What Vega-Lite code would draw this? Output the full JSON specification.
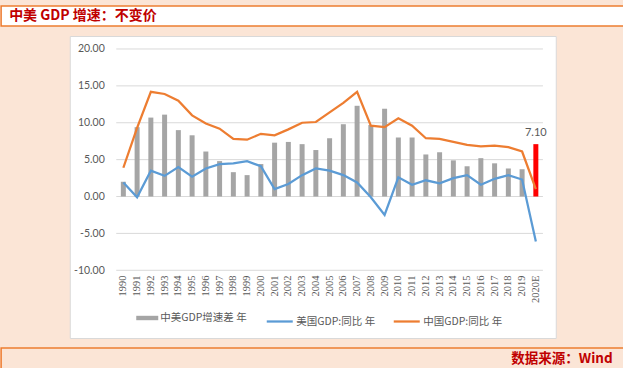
{
  "$schema": "https://vega.github.io/schema/vega-lite/v6.json",
  "background": "#fbe5d6",
  "padding": {"left": 0, "top": 5, "right": 0, "bottom": 0},
  "spacing": 8,
  "center": true,
  "config": {"view": {"stroke": null}, "font": "Lato"},
  "resolve": {"legend": {"fill": "independent", "stroke": "independent"}},
  "vconcat": [
    {
      "width": 623,
      "height": 20,
      "view": {"fill": "#ffffff", "stroke": "#ed7d31", "strokeWidth": 1.5},
      "data": {"values": [{"t": "中美 GDP 增速：不变价"}]},
      "mark": {"type": "text", "align": "left", "baseline": "middle", "dx": -303.5, "color": "#c00000", "font": "Noto Sans CJK SC", "fontWeight": "bold", "fontSize": 14},
      "encoding": {"text": {"field": "t"}}
    },
    {
      "width": 486,
      "height": 302,
      "view": {"fill": "#ffffff", "stroke": "#d9d9d9"},
      "data": {"values": [
        {"year": "1990", "diff": 2.0, "us": 1.9, "cn": 3.9},
        {"year": "1991", "diff": 9.4, "us": -0.1, "cn": 9.3},
        {"year": "1992", "diff": 10.7, "us": 3.5, "cn": 14.2},
        {"year": "1993", "diff": 11.1, "us": 2.8, "cn": 13.9},
        {"year": "1994", "diff": 9.0, "us": 4.0, "cn": 13.0},
        {"year": "1995", "diff": 8.3, "us": 2.7, "cn": 11.0},
        {"year": "1996", "diff": 6.1, "us": 3.8, "cn": 9.9},
        {"year": "1997", "diff": 4.8, "us": 4.4, "cn": 9.2},
        {"year": "1998", "diff": 3.3, "us": 4.5, "cn": 7.8},
        {"year": "1999", "diff": 2.9, "us": 4.8, "cn": 7.7},
        {"year": "2000", "diff": 4.4, "us": 4.1, "cn": 8.5},
        {"year": "2001", "diff": 7.3, "us": 1.0, "cn": 8.3},
        {"year": "2002", "diff": 7.4, "us": 1.7, "cn": 9.1},
        {"year": "2003", "diff": 7.1, "us": 2.9, "cn": 10.0},
        {"year": "2004", "diff": 6.3, "us": 3.8, "cn": 10.1},
        {"year": "2005", "diff": 7.9, "us": 3.5, "cn": 11.4},
        {"year": "2006", "diff": 9.8, "us": 2.9, "cn": 12.7},
        {"year": "2007", "diff": 12.3, "us": 1.9, "cn": 14.2},
        {"year": "2008", "diff": 9.7, "us": -0.1, "cn": 9.6},
        {"year": "2009", "diff": 11.9, "us": -2.5, "cn": 9.4},
        {"year": "2010", "diff": 8.0, "us": 2.6, "cn": 10.6},
        {"year": "2011", "diff": 8.0, "us": 1.6, "cn": 9.6},
        {"year": "2012", "diff": 5.7, "us": 2.2, "cn": 7.9},
        {"year": "2013", "diff": 6.0, "us": 1.8, "cn": 7.8},
        {"year": "2014", "diff": 4.9, "us": 2.5, "cn": 7.4},
        {"year": "2015", "diff": 4.1, "us": 2.9, "cn": 7.0},
        {"year": "2016", "diff": 5.2, "us": 1.6, "cn": 6.8},
        {"year": "2017", "diff": 4.5, "us": 2.4, "cn": 6.9},
        {"year": "2018", "diff": 3.8, "us": 2.9, "cn": 6.7},
        {"year": "2019", "diff": 3.7, "us": 2.3, "cn": 6.1},
        {"year": "2020E", "diff": 7.1, "us": -6.1, "cn": 1.0}
      ]},
      "encoding": {
        "x": {
          "field": "year", "type": "ordinal",
          "scale": {"range": [46.5, 473.2], "paddingInner": 0.637, "paddingOuter": 0.335, "align": 0.5},
          "axis": {"title": null, "orient": "bottom", "offset": -68, "labelAngle": -90, "labelFont": "Liberation Serif", "labelFontSize": 10.5, "labelColor": "#595959", "domain": false, "ticks": false, "labelPadding": 5, "grid": false}
        }
      },
      "layer": [
        {
          "data": {"values": [{"g": -10}, {"g": -5}, {"g": 0}, {"g": 5}, {"g": 10}, {"g": 15}, {"g": 20}]},
          "mark": {"type": "rule", "color": "#d9d9d9", "strokeWidth": 1},
          "encoding": {
            "x": {"datum": "1990", "type": "ordinal", "bandPosition": -0.92},
            "x2": {"datum": "2020E", "bandPosition": 1.92},
            "y": {
              "field": "g", "type": "quantitative",
              "scale": {"domain": [-19.18, 21.76], "nice": false, "zero": false},
              "axis": {"values": [-10, -5, 0, 5, 10, 15, 20], "labelExpr": "datum.value < 0 ? '-' + format(-datum.value, '.2f') : format(datum.value, '.2f')", "offset": -36.5, "labelPadding": 2, "domain": false, "ticks": false, "grid": false, "labelColor": "#595959", "labelFontSize": 10.5, "labelFont": "Lato", "title": null}
            }
          }
        },
        {
          "mark": {"type": "bar"},
          "encoding": {
            "y": {"field": "diff", "type": "quantitative"},
            "fill": {
              "datum": "中美GDP增速差 年",
              "scale": {"range": ["#a5a5a5"]},
              "condition": {"test": "datum.year === '2020E'", "value": "#ff0000"},
              "legend": {"orient": "none", "legendX": 66.5, "legendY": 271, "title": null, "symbolType": "M-1,-0.2H1V0.2H-1Z", "symbolSize": 484, "symbolStrokeWidth": 0, "labelFont": "Noto Sans CJK SC", "labelFontSize": 10.5, "labelColor": "#595959", "labelOffset": 2}
            }
          }
        },
        {
          "transform": [{"fold": ["us", "cn"], "as": ["s", "v"]}],
          "mark": {"type": "line", "strokeWidth": 2.25},
          "encoding": {
            "y": {"field": "v", "type": "quantitative"},
            "stroke": {
              "field": "s", "type": "nominal",
              "scale": {"domain": ["us", "cn"], "range": ["#5b9bd5", "#ed7d31"]},
              "legend": {"orient": "none", "legendX": 195.5, "legendY": 271, "direction": "horizontal", "title": null, "symbolType": "stroke", "symbolSize": 676, "symbolStrokeWidth": 2.25, "labelExpr": "datum.label === 'us' ? '美国GDP:同比 年' : '中国GDP:同比 年'", "columnPadding": 14, "labelFont": "Noto Sans CJK SC", "labelFontSize": 10.5, "labelColor": "#595959", "labelOffset": 2}
            }
          }
        },
        {
          "transform": [{"filter": "datum.year === '2020E'"}],
          "mark": {"type": "text", "dy": -6, "baseline": "bottom", "color": "#595959", "fontSize": 11, "font": "Lato"},
          "encoding": {
            "y": {"field": "diff", "type": "quantitative"},
            "text": {"field": "diff", "type": "quantitative", "format": ".2f"}
          }
        }
      ]
    },
    {
      "width": 623,
      "height": 21,
      "view": {"fill": "#fbe5d6", "stroke": "#ed7d31", "strokeWidth": 1.5},
      "data": {"values": [{"t": "数据来源：Wind"}]},
      "mark": {"type": "text", "align": "right", "baseline": "middle", "dx": 300, "color": "#c00000", "font": "Noto Sans CJK SC", "fontWeight": "bold", "fontSize": 13.5},
      "encoding": {"text": {"field": "t"}}
    }
  ]
}
